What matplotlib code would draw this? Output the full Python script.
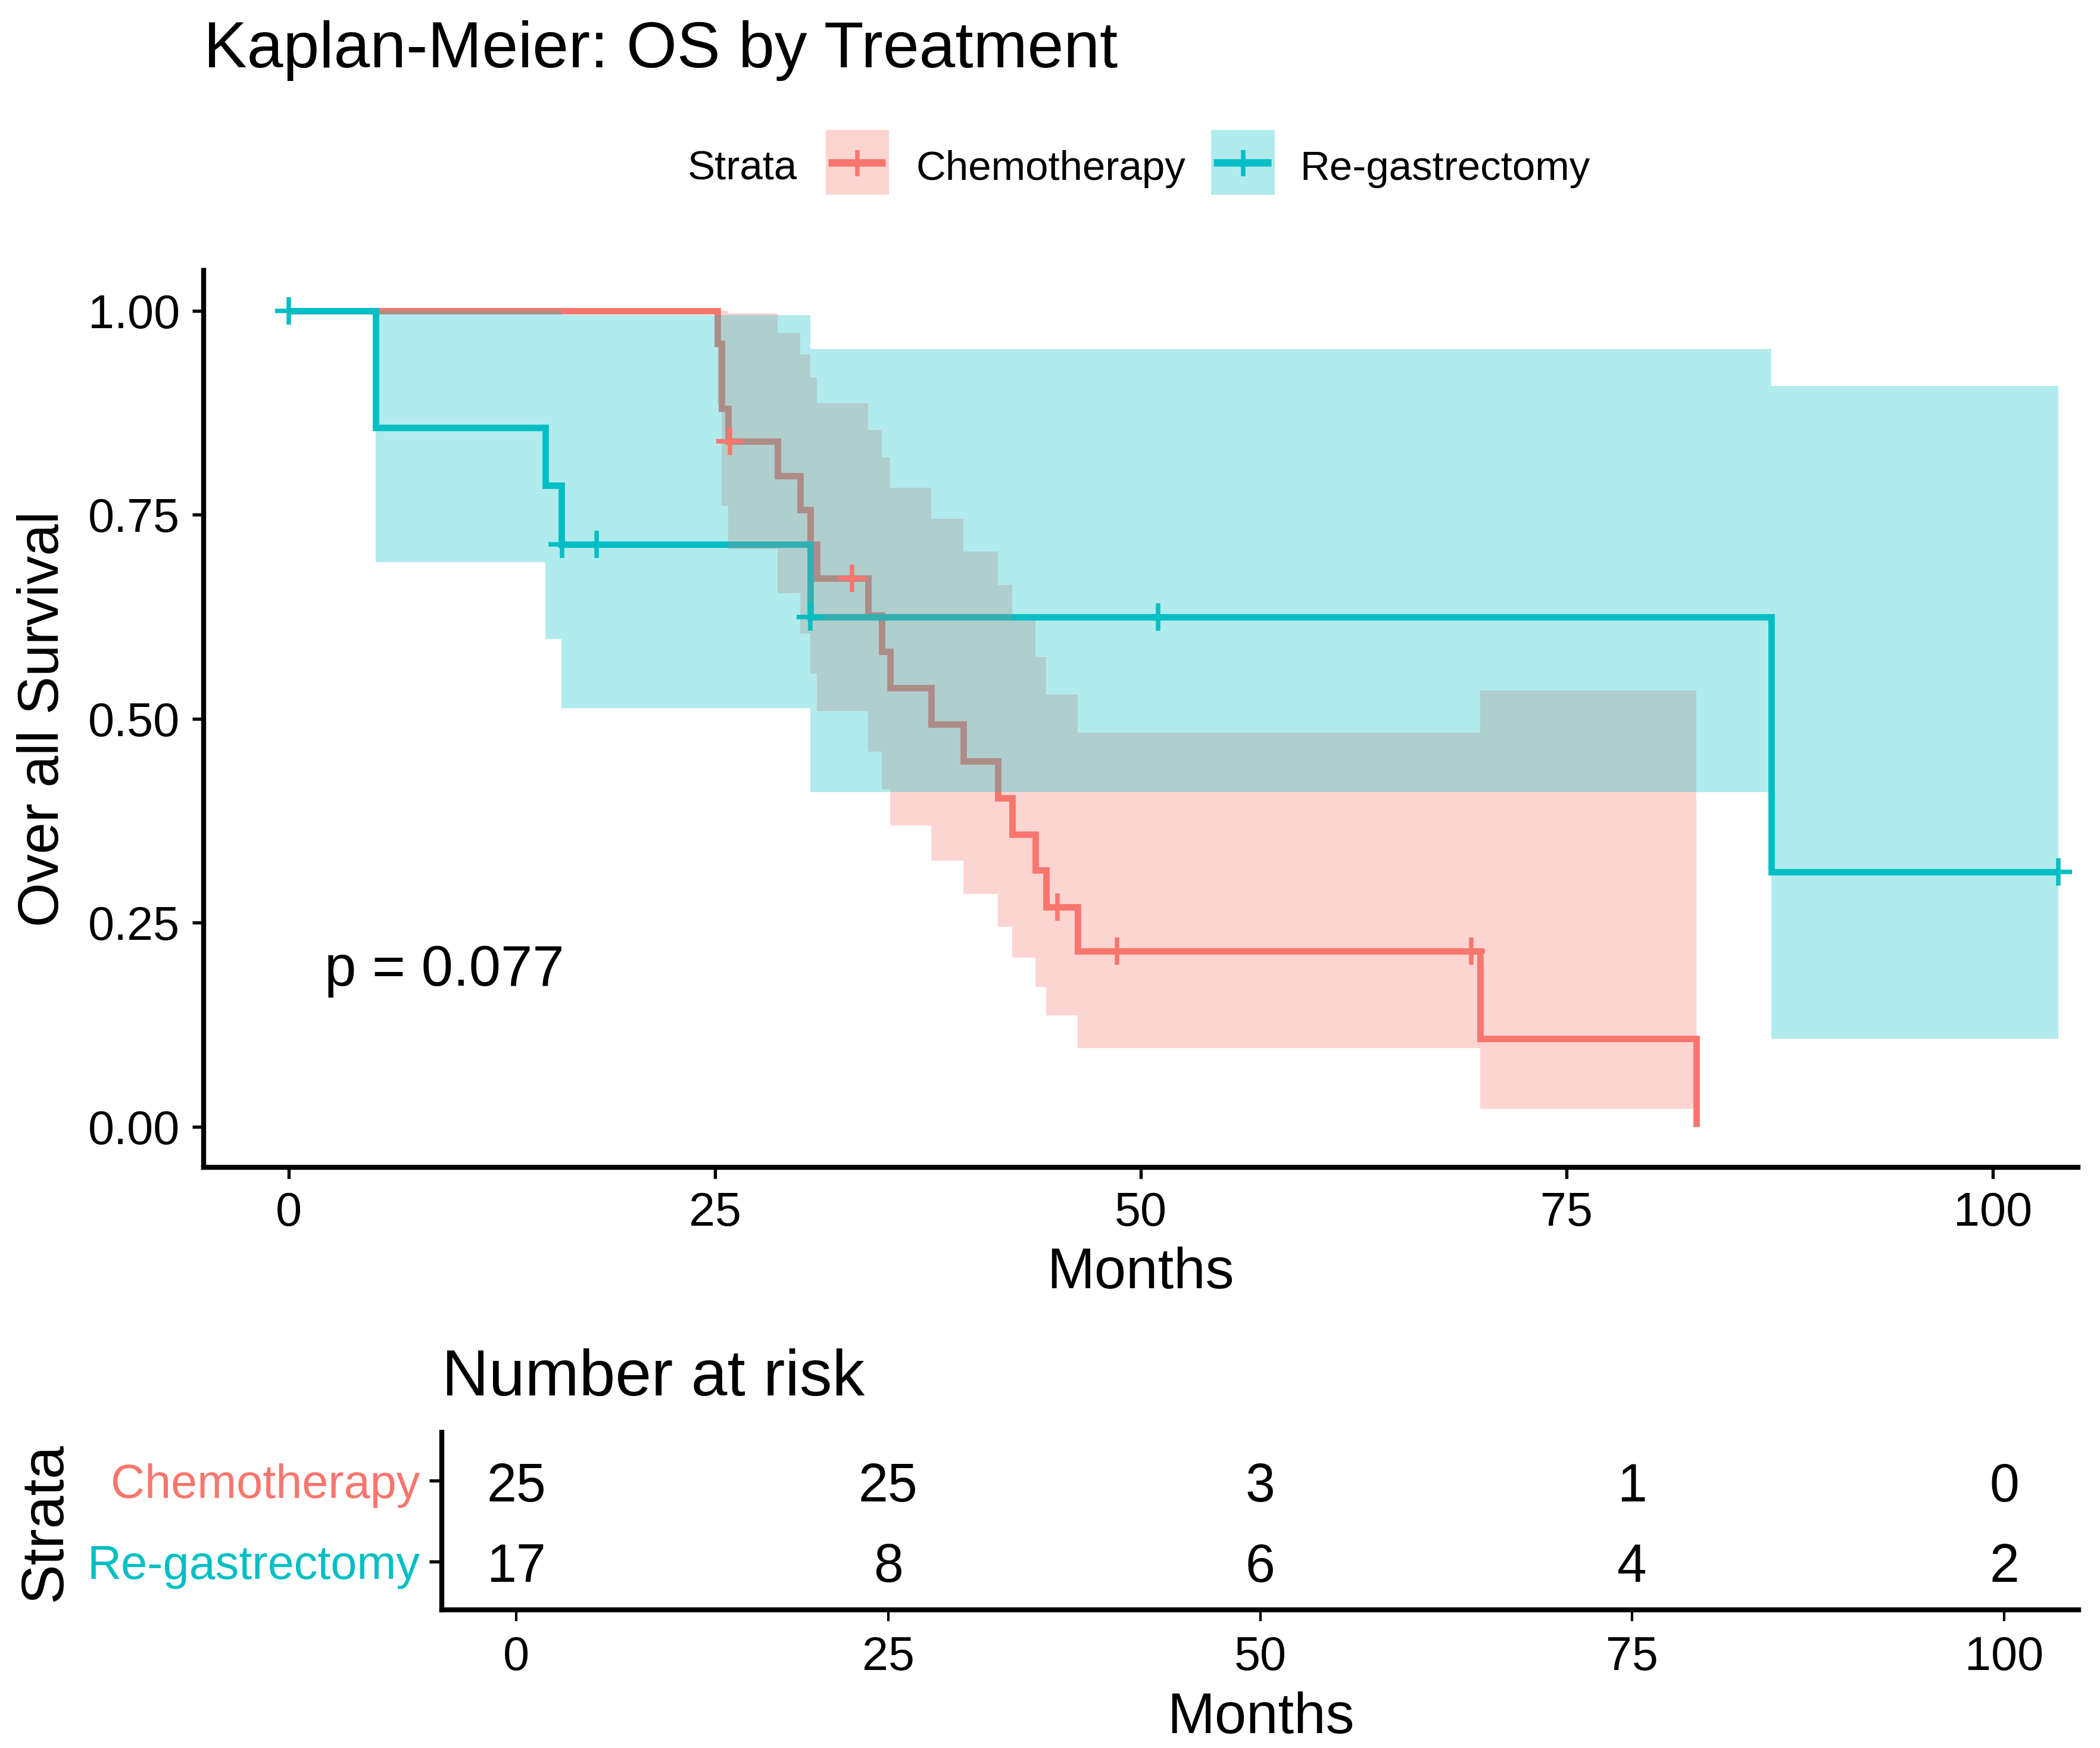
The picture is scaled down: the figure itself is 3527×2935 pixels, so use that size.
import numpy as np
import matplotlib
matplotlib.use("Agg")
import matplotlib.pyplot as plt
from matplotlib.patches import Rectangle
from matplotlib.lines import Line2D

plt.rcParams['font.family'] = ['Liberation Sans', 'DejaVu Sans']

# ---------------- data ----------------
groups = ["Chemotherapy", "Re-gastrectomy"]
colors = ["#F8766D", "#00BFC4"]

chemo_time = [0, 25.15, 25.4, 25.8, 28.67, 30.0, 30.6, 31.0, 34.0, 34.8, 35.3,
              37.7, 39.6, 41.6, 42.45, 43.8, 44.45, 46.3, 69.9, 82.6]
chemo_surv = [1.0, 0.96, 0.88, 0.84, 0.798, 0.756, 0.714, 0.672, 0.627, 0.582, 0.538,
              0.493, 0.448, 0.403, 0.358, 0.314, 0.269, 0.215, 0.1075, 0.0]
chemo_lower = [1.0, 0.886, 0.761, 0.708, 0.654, 0.604, 0.555, 0.509, 0.460, 0.414, 0.369,
               0.326, 0.285, 0.245, 0.207, 0.171, 0.136, 0.096, 0.0216, 0.0216]
chemo_upper = [1.0, 1.0, 1.0, 0.997, 0.973, 0.947, 0.918, 0.887, 0.854, 0.820, 0.783,
               0.745, 0.705, 0.664, 0.621, 0.576, 0.530, 0.483, 0.535, 0.535]
chemo_censor = [25.9, 33.05, 45.1, 48.6, 69.4]

regas_time = [0, 5.1, 15.07, 16.0, 30.6, 87.0, 103.85]
regas_surv = [1.0, 0.857, 0.786, 0.714, 0.625, 0.3125, 0.3125]
regas_lower = [1.0, 0.692, 0.598, 0.513, 0.410, 0.1075, 0.1075]
regas_upper = [1.0, 1.0, 1.0, 0.995, 0.953, 0.908, 0.908]
regas_censor = [0.0, 16.05, 18.05, 30.62, 51.0, 103.85]

pval_text = "p = 0.077"

risk_times = [0, 25, 50, 75, 100]
risk_chemo = [25, 25, 3, 1, 0]
risk_regas = [17, 8, 6, 4, 2]

x_ticks = [0, 25, 50, 75, 100]
y_ticks = [0.00, 0.25, 0.50, 0.75, 1.00]
y_ticklabels = ["0.00", "0.25", "0.50", "0.75", "1.00"]

# ---------------- figure ----------------
W, H = 3527, 2935
DPI = 300
fig = plt.figure(figsize=(W / DPI, H / DPI), dpi=DPI)


def fx(px):
    return px / W


def fy(py):
    return 1 - py / H


ax = fig.add_axes([fx(342), fy(1960), fx(3490) - fx(342), fy(453.5) - fy(1960)])
ax.set_xlim(-5, 105)
ax.set_ylim(-0.05, 1.05)

LW = 2.6
curves = [
    (chemo_time, chemo_surv, chemo_lower, chemo_upper, chemo_censor),
    (regas_time, regas_surv, regas_lower, regas_upper, regas_censor),
]
# step lines first
for (t, s, lo, up, cen), c in zip(curves, colors):
    ax.step(t, s, where="post", color=c, lw=LW, zorder=2, solid_joinstyle="miter",
            solid_capstyle="butt")
# ribbons on top of the lines
for k, ((t, s, lo, up, cen), c) in enumerate(zip(curves, colors)):
    ax.fill_between(t, lo, up, step="post", color=c, alpha=0.3, linewidth=0, zorder=3 + k)
# censor marks
for (t, s, lo, up, cen), c in zip(curves, colors):
    t_arr = np.asarray(t)
    s_arr = np.asarray(s)
    idx = np.searchsorted(t_arr, np.asarray(cen), side="right") - 1
    ax.plot(cen, s_arr[idx], linestyle="none", marker="+", markersize=11,
            markeredgewidth=1.8, color=c, zorder=6, clip_on=False)

ax.text(2.1, 0.173, pval_text, fontsize=23, ha="left", va="baseline", zorder=7)

for sp in ["top", "right"]:
    ax.spines[sp].set_visible(False)
for sp in ["left", "bottom"]:
    ax.spines[sp].set_linewidth(2.0)
ax.set_xticks(x_ticks)
ax.set_xticklabels([str(v) for v in x_ticks])
ax.set_yticks(y_ticks)
ax.set_yticklabels(y_ticklabels)
ax.tick_params(axis="both", length=4.5, width=1.3, labelsize=19, colors="black")
ax.tick_params(axis="x", pad=5)
ax.tick_params(axis="y", pad=5)

fig.text(fx(342), fy(113), "Kaplan-Meier: OS by Treatment", fontsize=26.2,
         ha="left", va="baseline")
fig.text(fx(73), fy(1207), "Over all Survival", fontsize=23, rotation=90,
         ha="center", va="center")
fig.text(fx(1915), fy(2163), "Months", fontsize=23, ha="center", va="baseline")

# ---------------- legend ----------------
fig.text(fx(1155), fy(301.7), "Strata", fontsize=16.6, ha="left", va="baseline")
key_boxes = [(1387, 1493), (2034, 2141)]
key_texts = [1538, 2183]
for (x0, x1), tx, c, g in zip(key_boxes, key_texts, colors, groups):
    fig.patches.append(Rectangle((fx(x0), fy(327)), fx(x1) - fx(x0), fy(218) - fy(327),
                                 transform=fig.transFigure, facecolor=c, alpha=0.3,
                                 edgecolor="none"))
    fig.lines.append(Line2D([fx(x0 + 4), fx(x1 - 6)], [fy(273), fy(273)],
                            transform=fig.transFigure, color=c, lw=3.0,
                            solid_capstyle="butt"))
    fig.lines.append(Line2D([fx((x0 + x1) / 2)], [fy(274)], transform=fig.transFigure,
                            color=c, marker="+", markersize=10.5, markeredgewidth=1.8,
                            linestyle="none"))
    fig.text(fx(tx), fy(301.7), g, fontsize=16.6, ha="left", va="baseline")

# ---------------- risk table ----------------
ax2 = fig.add_axes([fx(742), fy(2703), fx(3491) - fx(742), fy(2405) - fy(2703)])
ax2.set_xlim(-5, 105)
ax2.set_ylim(0.4, 2.6)
for t, n in zip(risk_times, risk_chemo):
    ax2.text(t, 2 - 0.255, str(n), fontsize=21.5, ha="center", va="baseline")
for t, n in zip(risk_times, risk_regas):
    ax2.text(t, 1 - 0.255, str(n), fontsize=21.5, ha="center", va="baseline")
for sp in ["top", "right"]:
    ax2.spines[sp].set_visible(False)
for sp in ["left", "bottom"]:
    ax2.spines[sp].set_linewidth(2.0)
ax2.set_xticks(x_ticks)
ax2.set_xticklabels([str(v) for v in x_ticks])
ax2.set_yticks([2, 1])
ax2.set_yticklabels(groups)
for lab, c in zip(ax2.get_yticklabels(), colors):
    lab.set_color(c)
ax2.tick_params(axis="x", length=4.5, width=1.0, labelsize=19, pad=5.8)
ax2.tick_params(axis="y", length=5, width=1.3, labelsize=19, pad=3.8)

fig.text(fx(742), fy(2343), "Number at risk", fontsize=26.2, ha="left", va="baseline")
fig.text(fx(76), fy(2556), "Strata", fontsize=24, rotation=90, ha="center", va="center")
fig.text(fx(2117), fy(2910), "Months", fontsize=23, ha="center", va="baseline")

fig.savefig("out.png", dpi=DPI)
